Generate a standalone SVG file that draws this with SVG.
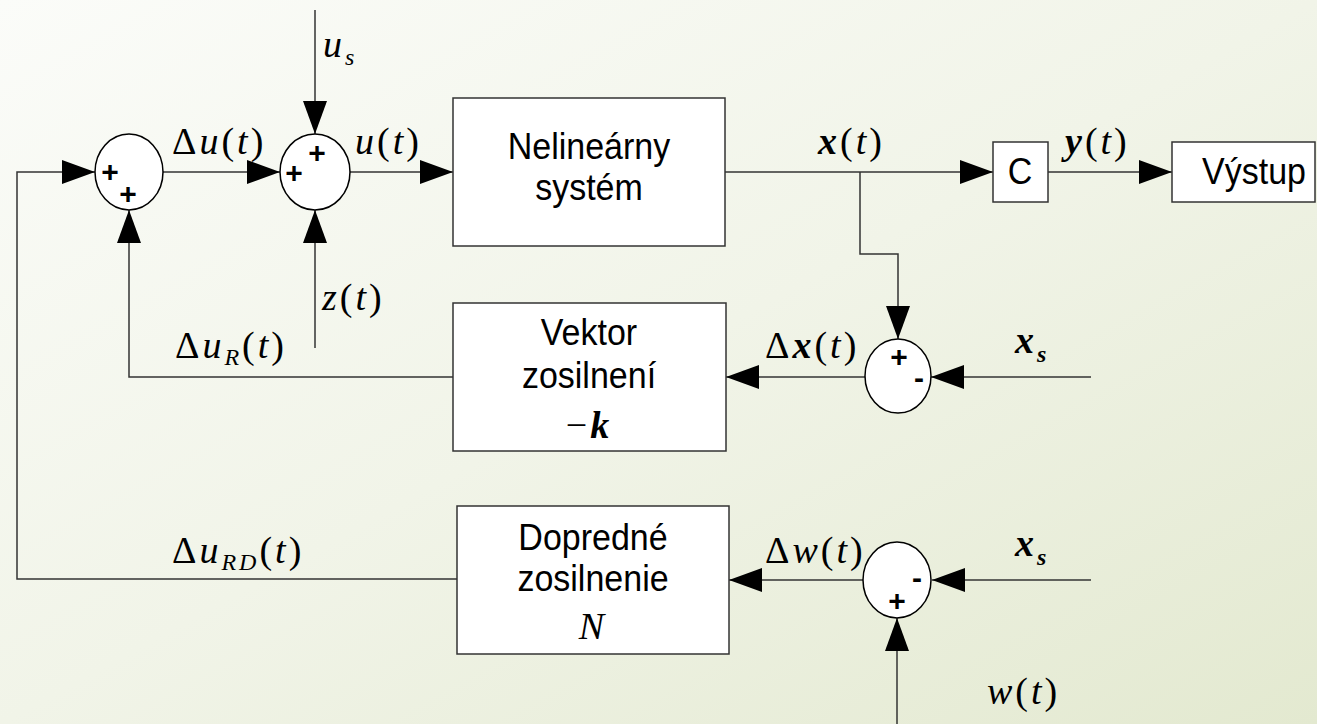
<svg xmlns="http://www.w3.org/2000/svg" width="1317" height="724" viewBox="0 0 1317 724">
<defs>
<linearGradient id="bg" x1="0" y1="0" x2="1" y2="1">
<stop offset="0" stop-color="#fbfcf9"/>
<stop offset="0.5" stop-color="#f1f4e8"/>
<stop offset="1" stop-color="#e3e9d0"/>
</linearGradient>
<marker id="arr" markerUnits="userSpaceOnUse" markerWidth="34" markerHeight="24" refX="33" refY="12" orient="auto" viewBox="0 0 34 24">
<path d="M0,0 L33,12 L0,24 Z" fill="#000"/>
</marker>
<style>
.box{fill:#fff;stroke:#333;stroke-width:1.5}
.sum{fill:#fff;stroke:#000;stroke-width:1.5}
.wire{fill:none;stroke:#333;stroke-width:1.5}
.arrow{marker-end:url(#arr)}
.lbl{font-family:"Liberation Sans",Arial,sans-serif;font-size:34px;fill:#000;text-anchor:middle}
.sign{font-family:"Liberation Sans",Arial,sans-serif;font-size:30px;font-weight:bold;fill:#000;text-anchor:middle;dominant-baseline:central}
.m{font-family:"Liberation Serif","Times New Roman",serif;font-size:38px;fill:#000;letter-spacing:3px}
.i{font-style:italic}
.b{font-weight:bold;font-style:italic}
.sub{font-size:24px;font-style:italic}
</style>
</defs>
<rect x="0" y="0" width="1317" height="724" fill="url(#bg)"/>

<g id="connectors">
<path class="wire arrow" d="M457,579 H17 V172 H95"/>
<path class="wire arrow" d="M163,172 H280"/>
<path class="wire arrow" d="M315,10 V134"/>
<path class="wire arrow" d="M315,348 V210"/>
<path class="wire arrow" d="M350,172 H453"/>
<path class="wire arrow" d="M725,172 H993"/>
<path class="wire arrow" d="M1048,172 H1172"/>
<path class="wire arrow" d="M860,172 V254 H898 V339"/>
<path class="wire arrow" d="M1091,377 H931"/>
<path class="wire arrow" d="M865,377 H726"/>
<path class="wire arrow" d="M453,377 H129 V210"/>
<path class="wire arrow" d="M1091,580 H932"/>
<path class="wire arrow" d="M863,580 H729"/>
<path class="wire arrow" d="M897,724 V618"/>
</g>

<g id="sum1">
<ellipse class="sum" cx="129" cy="172" rx="34" ry="38"/>
<text class="sign" x="110" y="171">+</text>
<text class="sign" x="128" y="193">+</text>
</g>
<g id="sum2">
<ellipse class="sum" cx="315" cy="172" rx="35" ry="38"/>
<text class="sign" x="294" y="172">+</text>
<text class="sign" x="317" y="152">+</text>
</g>
<g id="sum3">
<ellipse class="sum" cx="898" cy="376" rx="33" ry="37"/>
<text class="sign" x="899" y="356">+</text>
<text class="sign" x="919" y="377">-</text>
</g>
<g id="sum4">
<ellipse class="sum" cx="897" cy="580" rx="34" ry="38"/>
<text class="sign" x="917" y="577">-</text>
<text class="sign" x="897" y="600">+</text>
</g>

<g id="plant">
<rect class="box" x="453" y="98" width="272" height="148"/>
<text class="lbl" transform="translate(589,159) scale(1,1.08)">Nelineárny</text>
<text class="lbl" transform="translate(589,200) scale(1,1.08)">systém</text>
</g>
<g id="c">
<rect class="box" x="993" y="142" width="55" height="60"/>
<text class="lbl" transform="translate(1020,184) scale(1,1.08)">C</text>
</g>
<g id="output">
<rect class="box" x="1172" y="142" width="143" height="60"/>
<text class="lbl" transform="translate(1254,184) scale(1,1.08)">Výstup</text>
</g>
<g id="gain">
<rect class="box" x="453" y="303" width="273" height="148"/>
<text class="lbl" transform="translate(589,345) scale(1,1.08)">Vektor</text>
<text class="lbl" transform="translate(589,388) scale(1,1.08)">zosilnení</text>
<text class="m" x="589" y="438" text-anchor="middle">−<tspan class="b">k</tspan></text>
</g>
<g id="feedforward">
<rect class="box" x="457" y="506" width="272" height="148"/>
<text class="lbl" transform="translate(593,550) scale(1,1.08)">Dopredné</text>
<text class="lbl" transform="translate(593,591) scale(1,1.08)">zosilnenie</text>
<text class="m i" x="593" y="639" text-anchor="middle">N</text>
</g>

<g id="labels">
<text class="m" x="323" y="57"><tspan class="i">u</tspan><tspan class="sub" dy="8">s</tspan></text>
<text class="m" x="172" y="154">Δ<tspan class="i">u</tspan>(<tspan class="i">t</tspan>)</text>
<text class="m" x="355" y="154"><tspan class="i">u</tspan>(<tspan class="i">t</tspan>)</text>
<text class="m" x="818" y="154"><tspan class="b">x</tspan>(<tspan class="i">t</tspan>)</text>
<text class="m" x="1065" y="154"><tspan class="b">y</tspan>(<tspan class="i">t</tspan>)</text>
<text class="m" x="322" y="310"><tspan class="i">z</tspan>(<tspan class="i">t</tspan>)</text>
<text class="m" x="175" y="358">Δ<tspan class="i">u</tspan><tspan class="sub" dy="7">R</tspan><tspan dy="-7">(</tspan><tspan class="i">t</tspan>)</text>
<text class="m" x="765" y="358">Δ<tspan class="b">x</tspan>(<tspan class="i">t</tspan>)</text>
<text class="m" x="1015" y="353"><tspan class="b">x</tspan><tspan class="sub" font-weight="bold" dy="9">s</tspan></text>
<text class="m" x="765" y="563">Δ<tspan class="i">w</tspan>(<tspan class="i">t</tspan>)</text>
<text class="m" x="1015" y="556"><tspan class="b">x</tspan><tspan class="sub" font-weight="bold" dy="9">s</tspan></text>
<text class="m" x="987" y="704"><tspan class="i">w</tspan>(<tspan class="i">t</tspan>)</text>
<text class="m" x="172" y="563">Δ<tspan class="i">u</tspan><tspan class="sub" dy="7">RD</tspan><tspan dy="-7">(</tspan><tspan class="i">t</tspan>)</text>
</g>
</svg>
